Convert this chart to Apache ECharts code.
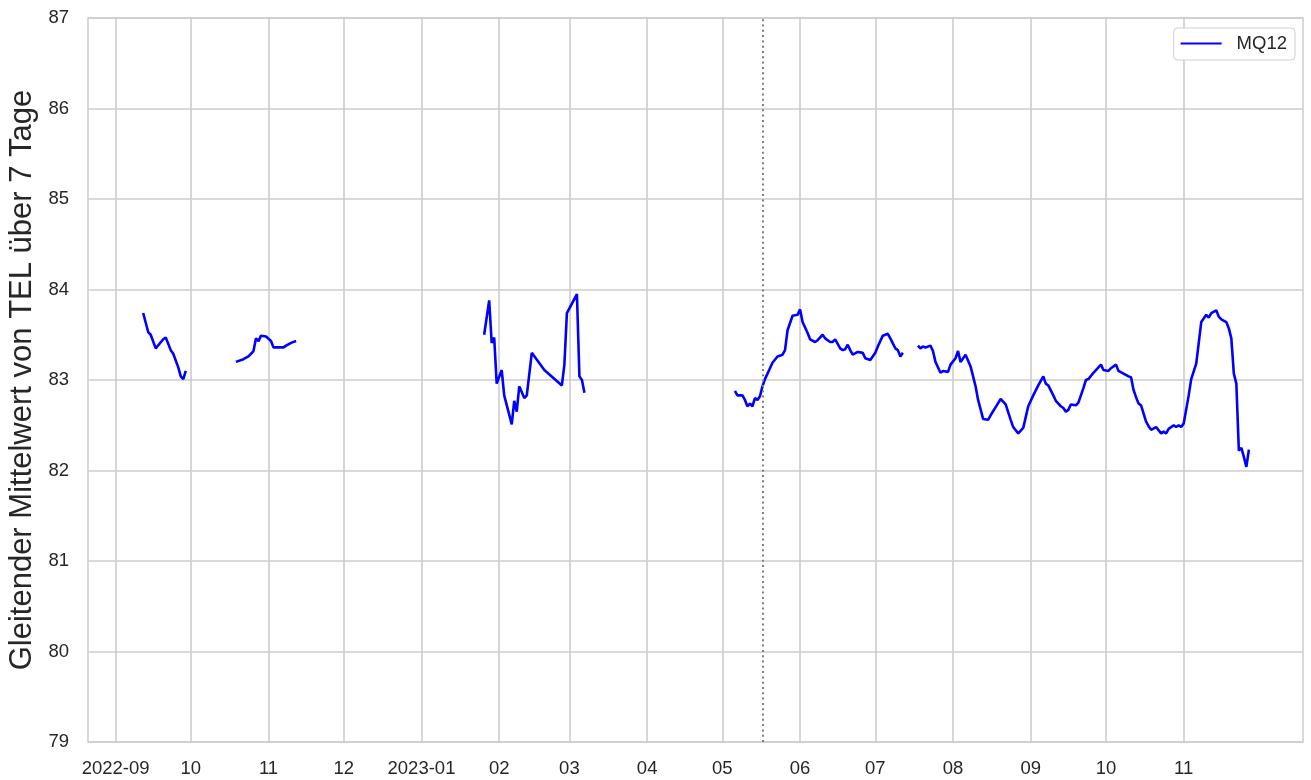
<!DOCTYPE html>
<html>
<head>
<meta charset="utf-8">
<script src="https://cdn.jsdelivr.net/npm/echarts@6/dist/echarts.min.js"></script>
<style>
html,body{margin:0;padding:0;background:#fff;}
#chart{width:1311px;height:780px;}
</style>
</head>
<body>
<div id="chart"></div>
<script>
// ---- data ----
const seriesName = 'MQ12';
const yTitle = 'Gleitender Mittelwert von TEL über 7 Tage';
const refLineDate = '2023-05-17';
const xMin = '2022-08-21';
const xMax = '2023-12-18 14:00';
const monthTicks = ['2022-09-01','2022-10-01','2022-11-01','2022-12-01','2023-01-01','2023-02-01','2023-03-01','2023-04-01','2023-05-01','2023-06-01','2023-07-01','2023-08-01','2023-09-01','2023-10-01','2023-11-01'];
const monthLabels = ['2022-09','10','11','12','2023-01','02','03','04','05','06','07','08','09','10','11'];

const dates1 = ['2022-09-12','2022-09-14','2022-09-15','2022-09-17','2022-09-20','2022-09-21','2022-09-23','2022-09-24','2022-09-26','2022-09-27','2022-09-28','2022-09-29'];
const values1 = [83.74,83.53,83.50,83.35,83.45,83.47,83.33,83.29,83.14,83.04,83.01,83.10];

const dates2 = ['2022-10-19','2022-10-22','2022-10-24','2022-10-26','2022-10-27','2022-10-28','2022-10-29','2022-10-31','2022-11-02','2022-11-03','2022-11-07','2022-11-08','2022-11-10','2022-11-12'];
const values2 = [83.20,83.23,83.26,83.32,83.46,83.43,83.49,83.48,83.43,83.36,83.36,83.38,83.41,83.43];

const dates3 = ['2023-01-26','2023-01-28','2023-01-29','2023-01-30','2023-01-31','2023-02-02','2023-02-03','2023-02-06','2023-02-07','2023-02-08','2023-02-09','2023-02-11','2023-02-12','2023-02-14','2023-02-19','2023-02-26','2023-02-27','2023-02-28','2023-03-04','2023-03-05','2023-03-06','2023-03-07'];
const values3 = [83.50,83.88,83.41,83.47,82.96,83.11,82.83,82.51,82.77,82.65,82.93,82.80,82.83,83.30,83.11,82.94,83.17,83.74,83.95,83.04,83.00,82.86];

const dates4 = ['2023-05-06','2023-05-07','2023-05-09','2023-05-10','2023-05-11','2023-05-12','2023-05-13','2023-05-14','2023-05-15','2023-05-16','2023-05-17','2023-05-18','2023-05-21','2023-05-23','2023-05-25','2023-05-26','2023-05-27','2023-05-29','2023-05-31','2023-06-01','2023-06-02','2023-06-04','2023-06-05','2023-06-07','2023-06-08','2023-06-10','2023-06-11','2023-06-13','2023-06-14','2023-06-15','2023-06-17','2023-06-18','2023-06-19','2023-06-20','2023-06-21','2023-06-22','2023-06-24','2023-06-26','2023-06-27','2023-06-29','2023-07-01','2023-07-02','2023-07-04','2023-07-06','2023-07-07','2023-07-09','2023-07-10','2023-07-11','2023-07-12'];
const values4 = [82.88,82.83,82.83,82.78,82.71,82.74,82.71,82.80,82.78,82.82,82.93,83.01,83.19,83.26,83.28,83.33,83.55,83.71,83.72,83.78,83.64,83.52,83.45,83.42,83.44,83.50,83.46,83.42,83.42,83.45,83.35,83.33,83.34,83.39,83.33,83.28,83.31,83.30,83.24,83.22,83.30,83.37,83.49,83.51,83.46,83.35,83.33,83.26,83.30];

const dates5 = ['2023-07-18','2023-07-19','2023-07-20','2023-07-21','2023-07-23','2023-07-24','2023-07-25','2023-07-27','2023-07-28','2023-07-30','2023-07-31','2023-08-02','2023-08-03','2023-08-04','2023-08-06','2023-08-08','2023-08-10','2023-08-11','2023-08-13','2023-08-15','2023-08-16','2023-08-18','2023-08-20','2023-08-22','2023-08-24','2023-08-25','2023-08-27','2023-08-29','2023-08-30','2023-08-31','2023-09-02','2023-09-04','2023-09-06','2023-09-07','2023-09-08','2023-09-10','2023-09-11','2023-09-13','2023-09-14','2023-09-15','2023-09-16','2023-09-17','2023-09-19','2023-09-20','2023-09-22','2023-09-23','2023-09-24','2023-09-26','2023-09-27','2023-09-28','2023-09-29','2023-09-30','2023-10-02','2023-10-03','2023-10-05','2023-10-06','2023-10-08','2023-10-10','2023-10-11','2023-10-12','2023-10-13','2023-10-14','2023-10-15','2023-10-17','2023-10-18','2023-10-19','2023-10-21','2023-10-23','2023-10-24','2023-10-25','2023-10-26','2023-10-28','2023-10-29','2023-10-30','2023-10-31','2023-11-01','2023-11-03','2023-11-04','2023-11-06','2023-11-07','2023-11-08','2023-11-10','2023-11-11','2023-11-12','2023-11-14','2023-11-15','2023-11-16','2023-11-18','2023-11-19','2023-11-20','2023-11-21','2023-11-22','2023-11-23','2023-11-24','2023-11-25','2023-11-26','2023-11-27'];
const values5 = [83.38,83.35,83.37,83.36,83.38,83.32,83.20,83.08,83.10,83.09,83.17,83.24,83.32,83.20,83.28,83.15,82.93,82.78,82.57,82.56,82.61,82.70,82.79,82.73,82.56,82.48,82.41,82.47,82.59,82.71,82.83,82.94,83.04,82.96,82.94,82.83,82.77,82.71,82.69,82.65,82.67,82.73,82.72,82.75,82.91,83.00,83.01,83.08,83.11,83.14,83.17,83.11,83.10,83.13,83.17,83.10,83.07,83.04,83.03,82.89,82.81,82.74,82.72,82.54,82.49,82.45,82.48,82.41,82.43,82.41,82.46,82.50,82.48,82.50,82.48,82.52,82.83,83.01,83.18,83.41,83.64,83.72,83.69,83.74,83.77,83.70,83.67,83.64,83.57,83.46,83.07,82.96,82.22,82.25,82.15,82.04,82.23];

const segments = [[dates1, values1],[dates2, values2],[dates3, values3],[dates4, values4],[dates5, values5]];

// ---- helpers ----
function ts(s) { return echarts.time.parse(s).getTime(); }

const lineData = [];
segments.forEach(function (seg, i) {
  if (i > 0) lineData.push([ts(seg[0][0]) - 86400000, '-']);
  seg[0].forEach(function (d, j) { lineData.push([ts(d), seg[1][j]]); });
});

const tickTimes = monthTicks.map(ts);
function labelFor(v) {
  let best = -1, bestD = Infinity;
  tickTimes.forEach(function (t, i) { const d = Math.abs(t - v); if (d < bestD) { bestD = d; best = i; } });
  return bestD < 86400000 ? monthLabels[best] : '';
}

const FONT = '"Liberation Sans", Arial, sans-serif';
const TXT = '#262626';
const GRID = '#cccccc';

const chart = echarts.init(document.getElementById('chart'), null, {renderer: 'canvas'});
chart.setOption({
  animation: false,
  backgroundColor: '#ffffff',
  textStyle: {fontFamily: FONT},
  grid: {left: 88, right: 8, top: 18, bottom: 38, show: true, borderColor: GRID, borderWidth: 1.5, outerBoundsMode: 'none'},
  legend: {
    right: 16, top: 28,
    data: [seriesName],
    icon: 'rect', itemWidth: 41, itemHeight: 2,
    padding: [6, 8, 7, 7],
    borderColor: '#d0d0d0', borderWidth: 1, borderRadius: 4,
    backgroundColor: '#ffffff',
    textStyle: {fontSize: 18.5, color: TXT, fontFamily: FONT, padding: [0, 0, 0, 10]}
  },
  xAxis: {
    type: 'value',
    min: ts(xMin), max: ts(xMax),
    axisLine: {show: false},
    axisTick: {show: false, customValues: tickTimes},
    axisLabel: {customValues: tickTimes, formatter: function (v) { return labelFor(v); }, fontSize: 18.5, color: TXT, margin: 17, fontFamily: FONT, showMinLabel: true, showMaxLabel: true},
    splitLine: {show: true, lineStyle: {color: GRID, width: 1.6}}
  },
  yAxis: {
    type: 'value',
    min: 79, max: 87, interval: 1,
    name: yTitle,
    nameLocation: 'middle',
    nameRotate: 90,
    nameGap: 50,
    nameTextStyle: {fontSize: 31, color: TXT, fontFamily: FONT},
    axisLine: {show: false},
    axisTick: {show: false},
    axisLabel: {fontSize: 18.5, color: TXT, margin: 19, fontFamily: FONT},
    splitLine: {show: true, lineStyle: {color: GRID, width: 1.6}}
  },
  series: [{
    name: seriesName,
    type: 'line',
    data: lineData,
    showSymbol: false,
    symbol: 'none',
    connectNulls: false,
    lineStyle: {color: '#0000ff', width: 2.6},
    itemStyle: {color: '#0000ff'},
    markLine: {
      silent: true,
      symbol: ['none', 'none'],
      label: {show: false},
      lineStyle: {color: '#808080', type: [2, 3.3], width: 2},
      data: [{xAxis: ts(refLineDate)}]
    }
  }]
});
</script>
</body>
</html>
